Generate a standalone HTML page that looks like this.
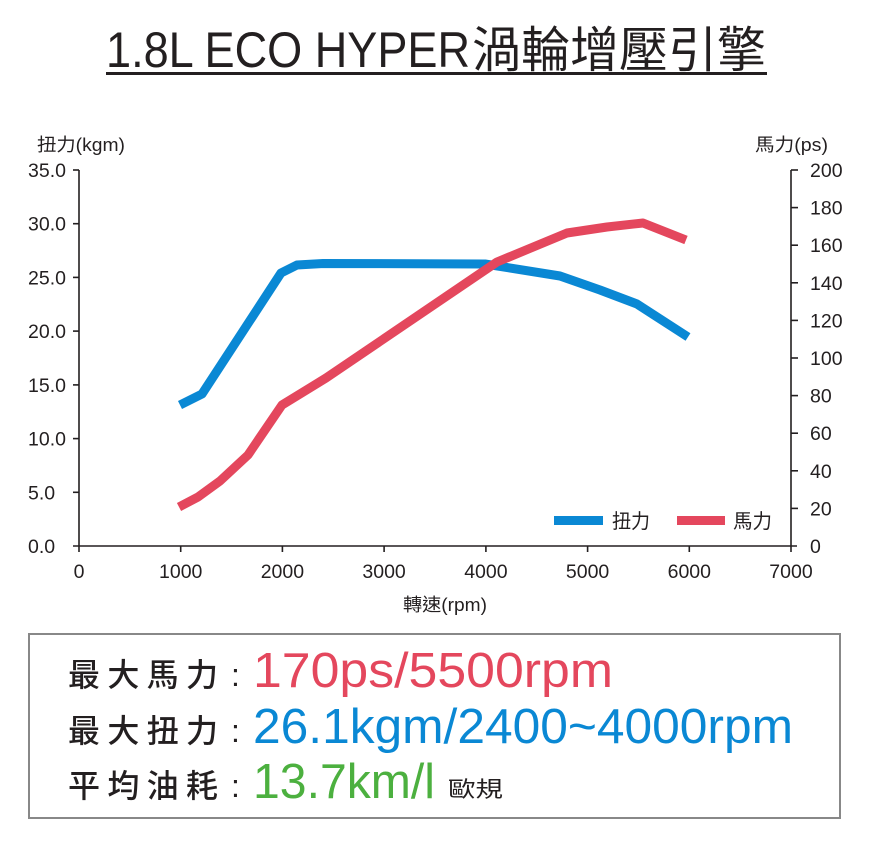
<!DOCTYPE html>
<html>
<head>
<meta charset="utf-8">
<style>
html,body{margin:0;padding:0;background:#fff;}
svg{display:block;}
text{font-family:"Liberation Sans","Noto Sans CJK TC",sans-serif;}
</style>
</head>
<body>
<svg width="869" height="844" viewBox="0 0 869 844" xmlns="http://www.w3.org/2000/svg">
  <rect width="869" height="844" fill="#fff"/>
  <!-- Title -->
  <text x="106" y="67" font-size="50" fill="#231f20" textLength="364" lengthAdjust="spacingAndGlyphs">1.8L ECO HYPER</text>
  <text x="472" y="67" font-size="49" fill="#231f20" textLength="294" lengthAdjust="spacingAndGlyphs">渦輪增壓引擎</text>
  <rect x="106" y="72" width="661" height="3" fill="#231f20"/>

  <!-- Axis titles -->
  <text x="37" y="151" font-size="18" fill="#231f20" textLength="88" lengthAdjust="spacingAndGlyphs">扭力(kgm)</text>
  <text x="755" y="151" font-size="18" fill="#231f20" textLength="73" lengthAdjust="spacingAndGlyphs">馬力(ps)</text>

  <!-- Axes -->
  <g stroke="#231f20" stroke-width="1.6" fill="none">
    <line x1="79" y1="170" x2="79" y2="546"/>
    <line x1="791" y1="170" x2="791" y2="546"/>
    <line x1="73" y1="546" x2="797" y2="546"/>
    <line x1="73" y1="170" x2="79" y2="170"/>
    <line x1="73" y1="223.7" x2="79" y2="223.7"/>
    <line x1="73" y1="277.4" x2="79" y2="277.4"/>
    <line x1="73" y1="331.1" x2="79" y2="331.1"/>
    <line x1="73" y1="384.9" x2="79" y2="384.9"/>
    <line x1="73" y1="438.6" x2="79" y2="438.6"/>
    <line x1="73" y1="492.3" x2="79" y2="492.3"/>
    <line x1="791" y1="170" x2="798" y2="170"/>
    <line x1="791" y1="207.6" x2="798" y2="207.6"/>
    <line x1="791" y1="245.2" x2="798" y2="245.2"/>
    <line x1="791" y1="282.8" x2="798" y2="282.8"/>
    <line x1="791" y1="320.4" x2="798" y2="320.4"/>
    <line x1="791" y1="358" x2="798" y2="358"/>
    <line x1="791" y1="395.6" x2="798" y2="395.6"/>
    <line x1="791" y1="433.2" x2="798" y2="433.2"/>
    <line x1="791" y1="470.8" x2="798" y2="470.8"/>
    <line x1="791" y1="508.4" x2="798" y2="508.4"/>
    <line x1="79" y1="546" x2="79" y2="552"/>
    <line x1="180.7" y1="546" x2="180.7" y2="552"/>
    <line x1="282.4" y1="546" x2="282.4" y2="552"/>
    <line x1="384.1" y1="546" x2="384.1" y2="552"/>
    <line x1="485.9" y1="546" x2="485.9" y2="552"/>
    <line x1="587.6" y1="546" x2="587.6" y2="552"/>
    <line x1="689.3" y1="546" x2="689.3" y2="552"/>
    <line x1="791" y1="546" x2="791" y2="552"/>
  </g>

  <!-- Left labels -->
  <g font-size="19.5" fill="#231f20">
    <text x="28" y="177">35.0</text>
    <text x="28" y="230.7">30.0</text>
    <text x="28" y="284.4">25.0</text>
    <text x="28" y="338.1">20.0</text>
    <text x="28" y="391.9">15.0</text>
    <text x="28" y="445.6">10.0</text>
    <text x="28" y="499.3">5.0</text>
    <text x="28" y="553">0.0</text>
  </g>
  <!-- Right labels -->
  <g font-size="19.5" fill="#231f20">
    <text x="810" y="177">200</text>
    <text x="810" y="214.6">180</text>
    <text x="810" y="252.2">160</text>
    <text x="810" y="289.8">140</text>
    <text x="810" y="327.4">120</text>
    <text x="810" y="365">100</text>
    <text x="810" y="402.6">80</text>
    <text x="810" y="440.2">60</text>
    <text x="810" y="477.8">40</text>
    <text x="810" y="515.4">20</text>
    <text x="810" y="553">0</text>
  </g>
  <!-- Bottom labels -->
  <g font-size="19.5" fill="#231f20" text-anchor="middle">
    <text x="79" y="578">0</text>
    <text x="180.7" y="578">1000</text>
    <text x="282.4" y="578">2000</text>
    <text x="384.1" y="578">3000</text>
    <text x="485.9" y="578">4000</text>
    <text x="587.6" y="578">5000</text>
    <text x="689.3" y="578">6000</text>
    <text x="791" y="578">7000</text>
  </g>
  <text x="403" y="611" font-size="18" fill="#231f20" textLength="84" lengthAdjust="spacingAndGlyphs">轉速(rpm)</text>

  <!-- Series -->
  <polyline fill="none" stroke="#0a88d4" stroke-width="9" stroke-linejoin="round"
    points="180,405 202,394 281,273 297,265 323,263.5 485,264 560,276 600,290 637,304 688,337"/>
  <polyline fill="none" stroke="#e4475d" stroke-width="9" stroke-linejoin="round"
    points="179,507 198,497 220,481 248,455 282,405 326,378 497,262 567,233 607,227 643,223 686,240"/>

  <!-- Legend -->
  <rect x="554" y="516" width="49" height="9" fill="#0a88d4"/>
  <text x="612" y="528" font-size="20" fill="#231f20" textLength="38" lengthAdjust="spacingAndGlyphs">扭力</text>
  <rect x="677" y="516" width="48" height="9" fill="#e4475d"/>
  <text x="733" y="528" font-size="20" fill="#231f20" textLength="39" lengthAdjust="spacingAndGlyphs">馬力</text>

  <!-- Info box -->
  <rect x="29" y="634" width="811" height="184" fill="#fff" stroke="#888" stroke-width="2"/>
  <g font-size="32" fill="#231f20" font-weight="500">
    <text x="68" y="686" textLength="150" lengthAdjust="spacing">最大馬力</text>
    <text x="68" y="742" textLength="150" lengthAdjust="spacing">最大扭力</text>
    <text x="68" y="797" textLength="150" lengthAdjust="spacing">平均油耗</text>
  </g>
  <g font-size="32" fill="#231f20">
    <text x="231" y="686" font-family="Liberation Sans, sans-serif">:</text>
    <text x="231" y="742" font-family="Liberation Sans, sans-serif">:</text>
    <text x="231" y="797" font-family="Liberation Sans, sans-serif">:</text>
  </g>
  <text x="253" y="687" font-size="49" fill="#e4475d" textLength="360" lengthAdjust="spacingAndGlyphs">170ps/5500rpm</text>
  <text x="253" y="743" font-size="49" fill="#0a88d4" textLength="540" lengthAdjust="spacingAndGlyphs">26.1kgm/2400~4000rpm</text>
  <text x="253" y="798" font-size="49" fill="#4cb03f" textLength="182" lengthAdjust="spacingAndGlyphs">13.7km/l</text>
  <text x="448" y="797" font-size="22" fill="#231f20" textLength="55" lengthAdjust="spacingAndGlyphs">歐規</text>
</svg>
</body>
</html>
